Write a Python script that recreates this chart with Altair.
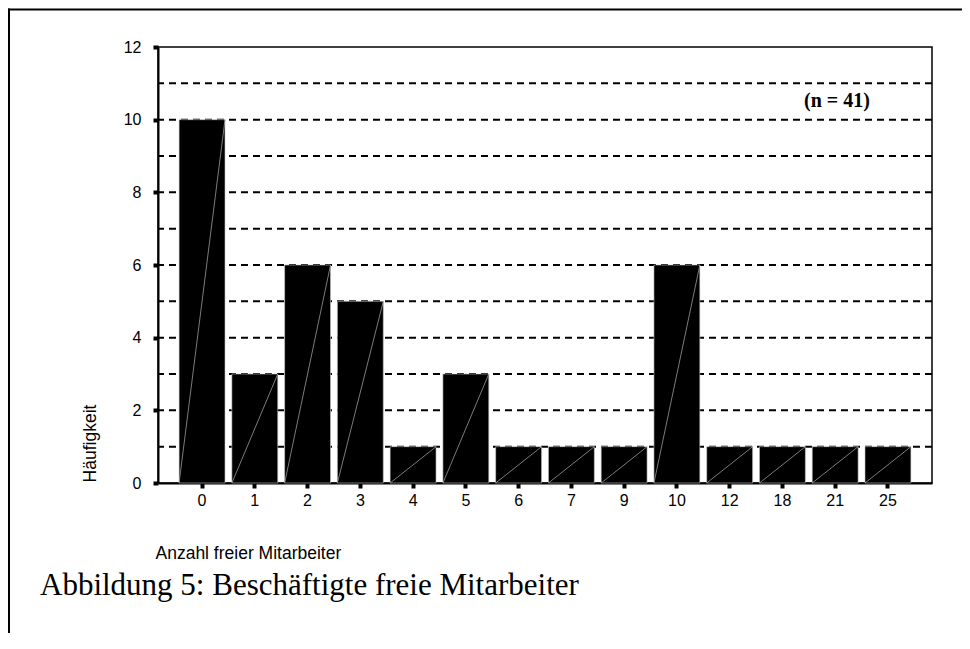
import altair as alt
import pandas as pd

categories = ["0", "1", "2", "3", "4", "5", "6", "7", "9", "10", "12", "18", "21", "25"]
counts = [10, 3, 6, 5, 1, 3, 1, 1, 1, 6, 1, 1, 1, 1]
grid_levels = [1, 2, 3, 4, 5, 6, 7, 8, 9, 10, 11]
y_ticks = [0, 2, 4, 6, 8, 10, 12]
caption_text = "Abbildung 5: Beschäftigte freie Mitarbeiter"
n_text = "(n = 41)"

df = pd.DataFrame({"anzahl": categories, "count": counts, "base": [0] * len(categories)})
grid_df = pd.DataFrame({"level": grid_levels})
one = pd.DataFrame({"k": [0]})

SANS = "Liberation Sans"
SERIF = "Liberation Serif"

xscale = alt.Scale(domain=categories, paddingInner=0.13, paddingOuter=0.4)
yscale = alt.Scale(domain=[0, 12], nice=False)

x_axis = alt.Axis(
    title="Anzahl freier Mitarbeiter",
    titleX=-3,
    titleY=75,
    titleAnchor="start",
    titleAlign="left",
    titleBaseline="alphabetic",
    titleFont=SANS,
    titleFontSize=17.5,
    titleFontWeight="normal",
    titleColor="black",
    labelAngle=0,
    labelFont=SANS,
    labelFontSize=16,
    labelColor="black",
    labelPadding=4,
    domainColor="black",
    domainWidth=2,
    tickColor="black",
    tickSize=5,
    tickWidth=4,
    grid=False,
)

y_axis = alt.Axis(
    values=y_ticks,
    title="Häufigkeit",
    titleX=-68,
    titleY=396,
    titleAlign="center",
    titleBaseline="middle",
    titleFont=SANS,
    titleFontSize=17.5,
    titleFontWeight="normal",
    titleColor="black",
    labelFont=SANS,
    labelFontSize=16,
    labelColor="black",
    labelPadding=12,
    domainColor="black",
    domainWidth=2,
    tickColor="black",
    tickSize=5,
    tickWidth=4,
    grid=False,
)

grid = alt.Chart(grid_df).mark_rule(color="black", strokeWidth=2, strokeDash=[7, 5]).encode(
    y=alt.Y("level:Q", scale=yscale, axis=y_axis, title="Häufigkeit")
)

bars = alt.Chart(df).mark_bar(color="black", stroke="#c8c8c8", strokeWidth=0.6).encode(
    x=alt.X("anzahl:N", scale=xscale, sort=None, axis=x_axis, title="Anzahl freier Mitarbeiter"),
    y=alt.Y("count:Q", scale=yscale, axis=y_axis, title="Häufigkeit"),
)

diag = alt.Chart(df).mark_rule(color="#9a9a9a", strokeWidth=0.8).encode(
    x=alt.X("anzahl:N", scale=xscale, sort=None, bandPosition=0, axis=x_axis, title="Anzahl freier Mitarbeiter"),
    x2=alt.X2("anzahl", bandPosition=1),
    y=alt.Y("base:Q", scale=yscale, axis=y_axis, title="Häufigkeit"),
    y2=alt.Y2("count"),
)

frame_top = alt.Chart(one).mark_rule(color="black", strokeWidth=2).encode(
    x=alt.value(-150), x2=alt.value(804), y=alt.value(-37.5)
)
frame_left = alt.Chart(one).mark_rule(color="black", strokeWidth=2).encode(
    x=alt.value(-149), y=alt.value(-38.5), y2=alt.value(590)
)

n_label = alt.Chart(one).mark_text(
    text=n_text, font=SERIF, fontWeight="bold", fontSize=20, align="center", baseline="middle", color="black"
).encode(x=alt.value(679), y=alt.value(54))

caption = alt.Chart(one).mark_text(
    text=caption_text, font=SERIF, fontSize=31, align="left", baseline="alphabetic", color="black"
).encode(x=alt.value(-118), y=alt.value(548))

chart = (
    alt.layer(grid, bars, diag, frame_top, frame_left, n_label, caption)
    .properties(
        width=774,
        height=436,
        autosize=alt.AutoSizeParams(type="none"),
        padding={"left": 150, "top": 39, "right": 30, "bottom": 150},
    )
    .configure_view(stroke="black", strokeWidth=1.5)
)

chart.save("out.html", embed_options={"renderer": "svg", "actions": False})
